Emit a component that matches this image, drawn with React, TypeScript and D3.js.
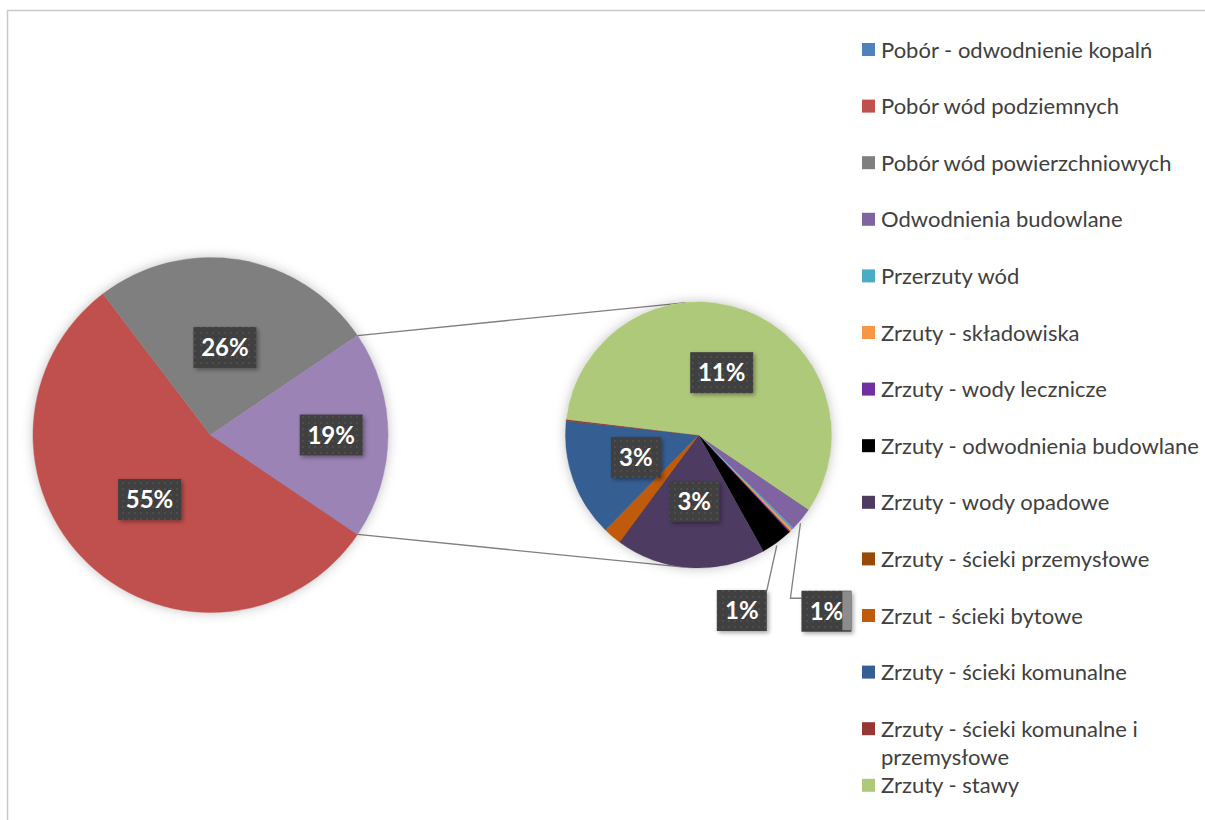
import { useRef, useEffect } from "react";
import { select, pie, arc, sum } from "d3";

// main pie series (legend order), value in %
const mainNames = ["Pobór - odwodnienie kopalń", "Pobór wód podziemnych", "Pobór wód powierzchniowych"];
const mainValues = [0, 55.2, 25.9];
const mainColors = ["#4F81BD", "#C0504D", "#7F7F7F"];
const otherColor = "#9B83B5";

// secondary pie series, value in %
const subNames = [
  "Odwodnienia budowlane",
  "Przerzuty wód",
  "Zrzuty - składowiska",
  "Zrzuty - wody lecznicze",
  "Zrzuty - odwodnienia budowlane",
  "Zrzuty - wody opadowe",
  "Zrzuty - ścieki przemysłowe",
  "Zrzut - ścieki bytowe",
  "Zrzuty - ścieki komunalne",
  "Zrzuty - ścieki komunalne i przemysłowe",
  "Zrzuty - stawy",
];
const subValues = [0.55, 0.05, 0.05, 0.03, 0.73, 3.45, 0, 0.42, 2.71, 0.04, 10.9];
const subColors = [
  "#8064A2", "#4BACC6", "#F79646", "#7030A0", "#000000", "#4D3B62",
  "#984807", "#BF5B0B", "#355F92", "#953735", "#AFC97A",
];

const W = 1205;
const H = 820;

export default function App() {
  const ref = useRef<SVGSVGElement>(null);

  useEffect(() => {
    const svg = select(ref.current);
    svg.selectAll("*").remove();

    const defs = svg.append("defs");
    const pat = defs.append("pattern").attr("id", "dots").attr("width", 6).attr("height", 6)
      .attr("patternUnits", "userSpaceOnUse");
    pat.append("rect").attr("width", 6).attr("height", 6).attr("fill", "#3F3F3F");
    pat.append("circle").attr("cx", 3).attr("cy", 3).attr("r", 0.9).attr("fill", "#555555");
    defs.append("filter").attr("id", "pieShadow").attr("x", "-20%").attr("y", "-20%")
      .attr("width", "140%").attr("height", "140%")
      .append("feDropShadow").attr("dx", 0).attr("dy", 0).attr("stdDeviation", 6)
      .attr("flood-color", "#000").attr("flood-opacity", 0.25);
    defs.append("filter").attr("id", "boxShadow").attr("x", "-30%").attr("y", "-30%")
      .attr("width", "160%").attr("height", "160%")
      .append("feDropShadow").attr("dx", 2).attr("dy", 2).attr("stdDeviation", 2)
      .attr("flood-color", "#000").attr("flood-opacity", 0.35);

    // chart border
    svg.append("path").attr("d", `M7.5,${H} V10.5 H${W}`).attr("fill", "none")
      .attr("stroke", "#C9C9C9").attr("stroke-width", 1.5);

    const other = sum(subValues);
    const total = sum(mainValues) + other;
    const otherAngle = (other / total) * 2 * Math.PI;
    const start = Math.PI / 2 + otherAngle / 2;

    const R1 = 177.5, c1 = { x: 210.5, y: 435 };
    const R2 = 133, c2 = { x: 698.5, y: 435 };

    const mainData = mainValues.map((v, i) => ({ name: mainNames[i], value: v, color: mainColors[i], r: 0.5 }));
    mainData.push({ name: "Inne", value: other, color: otherColor, r: 0.68 });
    const subData = subValues.map((v, i) => ({ name: subNames[i], value: v, color: subColors[i], r: 0.5 }));

    const mkPie = pie<any>().value((d: any) => d.value).sort(null)
      .startAngle(start).endAngle(start + 2 * Math.PI);

    // connector lines from the "other" slice edges to the secondary pie
    const phi = Math.asin((R1 - R2) / (c2.x - c1.x));
    const p1 = [c1.x + R1 * Math.cos(otherAngle / 2), c1.y - R1 * Math.sin(otherAngle / 2)];
    const p2 = [c1.x + R1 * Math.cos(otherAngle / 2), c1.y + R1 * Math.sin(otherAngle / 2)];
    const q1 = [c2.x - R2 * Math.sin(phi), c2.y - R2 * Math.cos(phi)];
    const q2 = [c2.x - R2 * Math.sin(phi), c2.y + R2 * Math.cos(phi)];
    [[p1, q1], [p2, q2]].forEach(([a, b]) => {
      svg.append("line").attr("x1", a[0]).attr("y1", a[1]).attr("x2", b[0]).attr("y2", b[1])
        .attr("stroke", "#7F7F7F").attr("stroke-width", 1.3);
    });

    const drawPie = (data: any[], c: { x: number; y: number }, R: number) => {
      const arcs = mkPie(data);
      const g = svg.append("g").attr("transform", `translate(${c.x},${c.y})`);
      g.append("circle").attr("r", R).attr("fill", "#fff").attr("filter", "url(#pieShadow)");
      const a = arc<any>().innerRadius(0).outerRadius(R);
      g.selectAll("path.slice").data(arcs).join("path").attr("class", "slice")
        .attr("d", a).attr("fill", (d: any) => d.data.color)
        .attr("stroke", (d: any) => d.data.color).attr("stroke-width", 0.5);
      return { arcs, g };
    };

    const box = (x: number, y: number, text: string) => {
      const w = text.length > 2 ? 63 : 50, h = 41;
      const g = svg.append("g");
      g.append("rect").attr("x", x - w / 2).attr("y", y - h / 2).attr("width", w).attr("height", h)
        .attr("fill", "url(#dots)").attr("filter", "url(#boxShadow)");
      g.append("text").attr("x", x).attr("y", y + 8.5).attr("text-anchor", "middle")
        .attr("font-family", "Lato, 'Open Sans', sans-serif").attr("font-weight", 700)
        .attr("font-size", 24).attr("fill", "#fff").text(text);
      return g;
    };

    const pct = (v: number) => Math.round((v / total) * 100);

    const m = drawPie(mainData, c1, R1);
    m.arcs.forEach((d: any) => {
      if (pct(d.data.value) < 1) return;
      const mid = (d.startAngle + d.endAngle) / 2;
      const r = R1 * d.data.r;
      box(c1.x + r * Math.sin(mid), c1.y - r * Math.cos(mid), pct(d.data.value) + "%");
    });

    const s = drawPie(subData, c2, R2);
    const callouts: any[] = [];
    s.arcs.forEach((d: any) => {
      const p = pct(d.data.value);
      if (p < 1) return;
      const mid = (d.startAngle + d.endAngle) / 2;
      const ex = c2.x + R2 * Math.sin(mid), ey = c2.y - R2 * Math.cos(mid);
      if (d.data.value < 2) {
        callouts.push({ ex, ey, p });
        return;
      }
      const r = R2 * d.data.r;
      box(c2.x + r * Math.sin(mid), c2.y - r * Math.cos(mid), p + "%");
    });
    // outside labels with leader lines (purple first, then black)
    callouts.forEach((c: any, i: number) => {
      if (i === 0) {
        const bx = c.ex + 25, by = c.ey + 92;
        svg.append("polyline")
          .attr("points", `${c.ex - 1},${c.ey + 4} ${c.ex - 11},${by - 13} ${bx - 25},${by - 13}`)
          .attr("fill", "none").attr("stroke", "#7F7F7F").attr("stroke-width", 1.3);
        box(bx, by, c.p + "%");
        svg.append("rect").attr("x", bx + 16).attr("y", by - 20).attr("width", 9).attr("height", 39)
          .attr("fill", "#8C8C8C");
      } else {
        const bx = c.ex - 35, by = c.ey + 68;
        svg.append("line").attr("x1", c.ex).attr("y1", c.ey + 3).attr("x2", bx + 25).attr("y2", by - 20)
          .attr("stroke", "#7F7F7F").attr("stroke-width", 1.3);
        box(bx, by, c.p + "%");
      }
    });

    // legend
    const legNames = [...mainNames, ...subNames];
    const legColors = [...mainColors, ...subColors];
    const lg = svg.append("g").attr("transform", "translate(862,0)");
    legNames.forEach((n, i) => {
      const y = 50 + i * 56.6;
      lg.append("rect").attr("x", 0).attr("y", y - 7).attr("width", 13).attr("height", 13)
        .attr("fill", legColors[i]);
      const lines = n === "Zrzuty - ścieki komunalne i przemysłowe"
        ? ["Zrzuty - ścieki komunalne i", "przemysłowe"] : [n];
      lines.forEach((t, j) => {
        lg.append("text").attr("x", 19).attr("y", y + 7.5 + j * 28)
          .attr("font-family", "Lato, 'Open Sans', sans-serif").attr("font-size", 22)
          .attr("fill", "#404040").text(t);
      });
    });
  }, []);

  return (
    <svg ref={ref} width={W} height={H}
      style={{ position: "absolute", left: 0, top: 0, background: "#fff" }} />
  );
}
